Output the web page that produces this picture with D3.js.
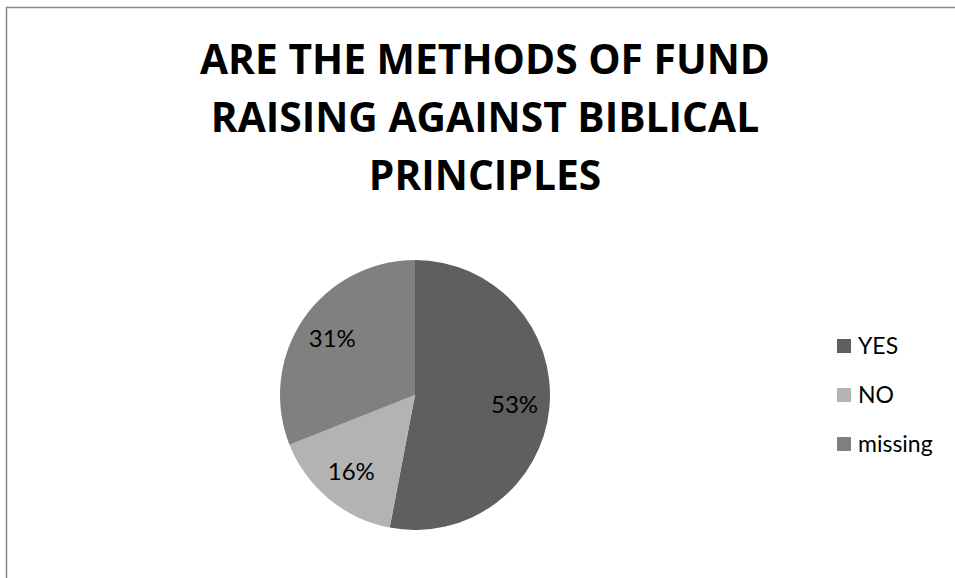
<!DOCTYPE html>
<html>
<head>
<meta charset="utf-8">
<script src="https://cdn.jsdelivr.net/npm/d3@7"></script>
<style>
  html, body { margin: 0; padding: 0; background: #fff; }
  svg { display: block; }
</style>
</head>
<body>
<svg id="chart" width="955" height="578"></svg>
<script>
const titleLines = ["ARE THE METHODS OF FUND", "RAISING AGAINST BIBLICAL", "PRINCIPLES"];
const categories = ["YES", "NO", "missing"];
const values = [53, 16, 31];
const colors = ["#5f5f5f", "#b3b3b3", "#808080"];

const W = 955, H = 578;
const svg = d3.select("#chart");

// chart area border (cropped: top and left edges visible)
svg.append("rect")
  .attr("x", 6.5).attr("y", 7.5)
  .attr("width", W + 20).attr("height", H + 20)
  .attr("fill", "#fff")
  .attr("stroke", "#898989")
  .attr("stroke-width", 1.5);

// title
const titleFont = "'Open Sans', Lato, 'Liberation Sans', sans-serif";
const cx = 485;
const title = svg.append("g");
const tl = title.selectAll("text").data(titleLines).join("text")
  .attr("x", cx)
  .attr("y", (d, i) => 73.5 + i * 58)
  .attr("text-anchor", "middle")
  .attr("font-family", titleFont)
  .attr("font-weight", 700)
  .attr("font-size", 42)
  .attr("fill", "#000")
  .text(d => d);
// compress horizontally so the first line matches the reference width
const w0 = tl.nodes()[0].getComputedTextLength();
const k = 570 / w0;
tl.each(function() {
  const w = this.getComputedTextLength();
  d3.select(this).attr("textLength", w * k).attr("lengthAdjust", "spacingAndGlyphs");
});

// pie
const pcx = 415, pcy = 395, R = 135;
const color = d3.scaleOrdinal().domain(categories).range(colors);
const pie = d3.pie().sort(null).value(d => d.v);
const data = categories.map((c, i) => ({ c, v: values[i] }));
const arcs = pie(data);
const arc = d3.arc().innerRadius(0).outerRadius(R);
const labelArc = d3.arc().innerRadius(100).outerRadius(100);

const g = svg.append("g").attr("transform", `translate(${pcx},${pcy})`);
g.selectAll("path").data(arcs).join("path")
  .attr("d", arc)
  .attr("fill", d => color(d.data.c));

const labelFont = "Lato, 'Open Sans', 'Liberation Sans', sans-serif";
g.selectAll("text").data(arcs).join("text")
  .attr("transform", d => `translate(${labelArc.centroid(d)})`)
  .attr("text-anchor", "middle")
  .attr("dy", "0.35em")
  .attr("font-family", labelFont)
  .attr("font-size", 24)
  .attr("fill", "#000")
  .text(d => d.data.v + "%");

// legend
const ly = d3.scalePoint().domain(categories).range([346, 444]);
const leg = svg.append("g");
const items = leg.selectAll("g").data(categories).join("g")
  .attr("transform", d => `translate(837,${ly(d)})`);
items.append("rect")
  .attr("x", 0).attr("y", -7)
  .attr("width", 14).attr("height", 14)
  .attr("fill", d => color(d));
items.append("text")
  .attr("x", 21).attr("y", 0)
  .attr("dy", "0.35em")
  .attr("font-family", labelFont)
  .attr("font-size", 23)
  .attr("fill", "#000")
  .text(d => d);
</script>
</body>
</html>
